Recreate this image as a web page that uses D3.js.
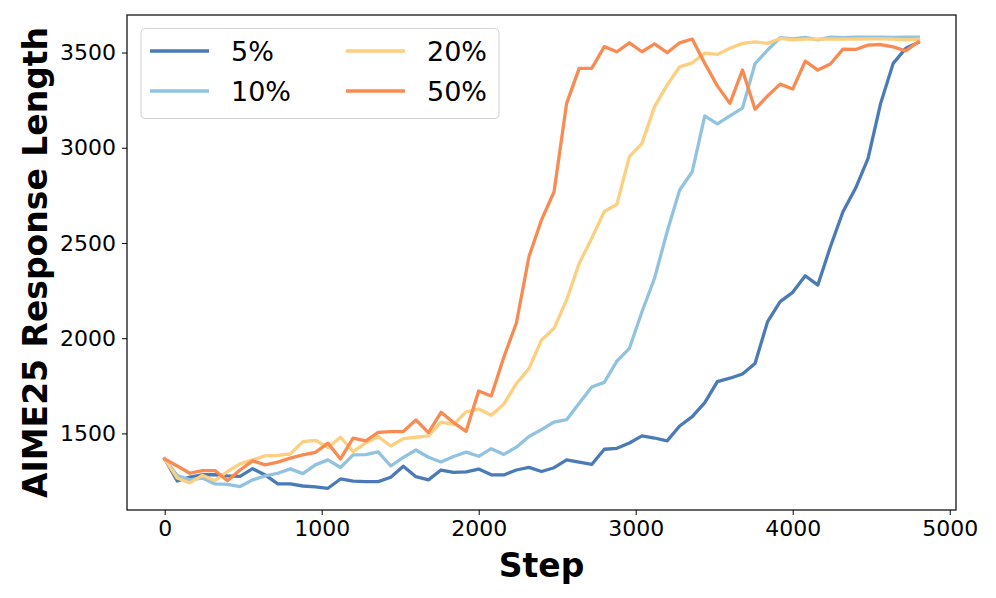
<!DOCTYPE html>
<html>
<head>
<meta charset="utf-8">
<script src="https://cdn.jsdelivr.net/npm/d3@7"></script>
<style>
  html, body { margin: 0; padding: 0; background: #fff; }
  svg { display: block; }
  text { font-family: "DejaVu Sans", sans-serif; fill: #000; }
</style>
</head>
<body>
<svg id="chart" width="996" height="598"></svg>
<script>
const steps = [0,80,160,240,320,400,480,560,640,720,800,880,960,1040,1120,1200,1280,1360,1440,1520,
  1600,1680,1760,1840,1920,2000,2080,2160,2240,2320,2400,2480,2560,2640,2720,2800,2880,2960,3040,3120,
  3200,3280,3360,3440,3520,3600,3680,3760,3840,3920,4000,4080,4160,4240,4320,4400,4480,4560,4640,4720,4800];

const pct5 = [1366,1250,1271,1283,1283,1277,1275,1315,1282,1235,1235,1224,1219,1212,1261,1250,1247,1247,1270,1328,
  1273,1256,1308,1296,1298,1313,1283,1282,1308,1322,1300,1320,1361,1349,1337,1417,1422,1450,1487,1476,
  1461,1539,1588,1662,1772,1790,1812,1867,2087,2192,2241,2328,2279,2480,2664,2787,2944,3233,3443,3522,3553];

const pct10 = [1366,1279,1256,1266,1235,1233,1221,1256,1277,1291,1314,1289,1335,1361,1321,1387,1389,1403,1329,1374,
  1413,1375,1350,1379,1402,1380,1420,1390,1428,1484,1520,1560,1572,1659,1744,1768,1880,1947,2139,2315,
  2559,2778,2874,3167,3125,3167,3208,3441,3513,3578,3571,3580,3566,3581,3578,3581,3581,3581,3580,3581,3581];

const pct20 = [1366,1266,1240,1280,1252,1300,1340,1361,1382,1385,1392,1457,1464,1426,1480,1405,1449,1483,1434,1473,
  1480,1487,1559,1547,1613,1628,1595,1654,1762,1840,1991,2052,2201,2393,2525,2665,2703,2953,3023,3216,
  3329,3425,3446,3497,3490,3522,3548,3556,3548,3574,3566,3570,3570,3570,3570,3570,3572,3572,3570,3566,3570];

const pct50 = [1366,1329,1291,1305,1305,1252,1308,1356,1335,1349,1370,1387,1401,1449,1366,1475,1461,1506,1510,1510,
  1571,1504,1611,1557,1511,1723,1697,1900,2080,2428,2621,2769,3233,3417,3417,3531,3504,3551,3504,3545,
  3499,3551,3571,3443,3325,3233,3408,3202,3272,3334,3308,3455,3408,3440,3518,3516,3539,3542,3530,3509,3556];

const seriesNames = ["5%", "10%", "20%", "50%"];
const seriesValues = [pct5, pct10, pct20, pct50];
const seriesColors = ["#4a7bb7", "#91c3e0", "#fdcf80", "#f98b52"];

const xTicks = [0, 1000, 2000, 3000, 4000, 5000];
const yTicks = [1500, 2000, 2500, 3000, 3500];

const xLabel = "Step";
const yLabel = "AIME25 Response Length";

const svg = d3.select("#chart");
const L = 127, R = 956, T = 15, B = 510;

const x = d3.scaleLinear().domain([-240, 5040]).range([L, R]);
const y = d3.scaleLinear().domain([1098, 3697]).range([B, T]);

// lines
const line = d3.line().x((d, i) => x(steps[i])).y(d => y(d));
const g = svg.append("g");
seriesValues.forEach((vals, k) => {
  g.append("path")
    .datum(vals)
    .attr("d", line)
    .attr("fill", "none")
    .attr("stroke", seriesColors[k])
    .attr("stroke-width", 3.3)
    .attr("stroke-linejoin", "round")
    .attr("stroke-linecap", "square");
});

// axes
const xAxis = d3.axisBottom(x).tickValues(xTicks).tickSize(5).tickPadding(5).tickFormat(d3.format("d"));
const yAxis = d3.axisLeft(y).tickValues(yTicks).tickSize(5).tickPadding(6).tickFormat(d3.format("d"));

const gx = svg.append("g").attr("transform", `translate(0,${B})`).call(xAxis);
const gy = svg.append("g").attr("transform", `translate(${L},0)`).call(yAxis);
[gx, gy].forEach(ax => {
  ax.select(".domain").remove();
  ax.selectAll(".tick line").attr("stroke", "#000").attr("stroke-width", 1);
  ax.selectAll(".tick text").style("font-family", "DejaVu Sans").style("font-size", "22px").attr("fill", "#000");
});

// frame
svg.append("rect")
  .attr("x", L).attr("y", T).attr("width", R - L).attr("height", B - T)
  .attr("fill", "none").attr("stroke", "#000").attr("stroke-width", 1.2);

// axis labels
svg.append("text")
  .attr("x", (L + R) / 2).attr("y", 577)
  .attr("text-anchor", "middle")
  .style("font-size", "33px").style("font-weight", "bold")
  .text(xLabel);

svg.append("text")
  .attr("transform", `translate(47,${(T + B) / 2}) rotate(-90)`)
  .attr("text-anchor", "middle")
  .style("font-size", "33px").style("font-weight", "bold")
  .text(yLabel);

// legend
const lg = svg.append("g");
lg.append("rect")
  .attr("x", 141).attr("y", 28.5).attr("width", 358).attr("height", 90)
  .attr("rx", 4).attr("ry", 4)
  .attr("fill", "#fff").attr("fill-opacity", 0.8)
  .attr("stroke", "#d3d3d3").attr("stroke-width", 1);

const colX = [150, 346];
const rowY = [51, 91];
seriesNames.forEach((name, k) => {
  const col = Math.floor(k / 2), row = k % 2;
  const hx = colX[col], hy = rowY[row];
  lg.append("line")
    .attr("x1", hx).attr("x2", hx + 59)
    .attr("y1", hy).attr("y2", hy)
    .attr("stroke", seriesColors[k]).attr("stroke-width", 3.3);
  lg.append("text")
    .attr("x", hx + 81).attr("y", hy)
    .attr("dy", "0.36em")
    .style("font-size", "27px")
    .text(name);
});
</script>
</body>
</html>
